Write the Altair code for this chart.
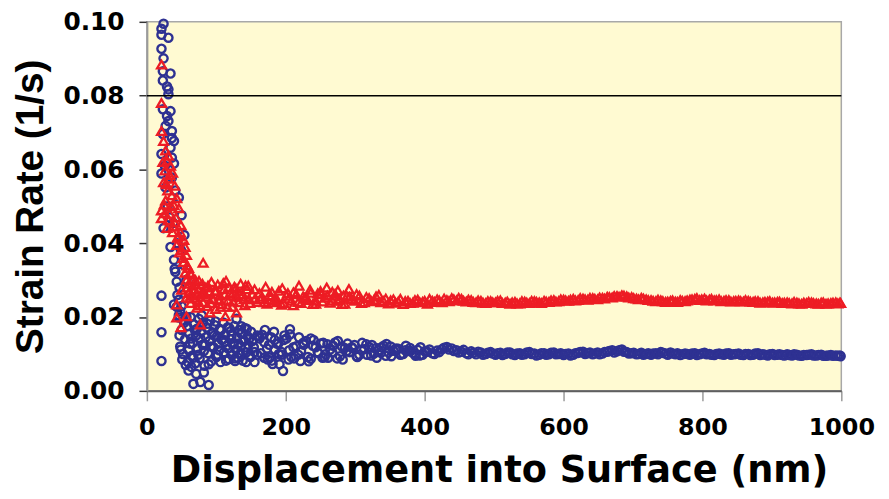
import altair as alt
import pandas as pd

# ---------------- axis ticks ----------------
x_ticks = [0, 200, 400, 600, 800, 1000]
y_ticks = [0.00, 0.02, 0.04, 0.06, 0.08, 0.10]
ref_y = [0.08]
ref_x_start = [0]
ref_x_end = [1000]

# ---------------- blue series (circles) ----------------
blue_early_x = [24, 21, 31, 21, 21, 24, 23, 34, 23, 29,
                31, 31, 23, 34, 29, 31, 27, 36, 23, 36,
                39, 34, 21, 36, 39, 21, 36, 27, 41, 46,
                24, 34, 39, 41, 43, 46, 43, 50, 54, 49,
                53, 57, 39, 46, 26, 30, 33, 38, 44, 40,
                47, 44, 50, 48]
blue_early_y = [.0995, .0981, .0957, .0965, .0927, .0901, .0866, .0860, .0841, .0825,
                .0817, .0804, .0763, .0758, .0745, .0731, .0718, .0704, .0696, .0685,
                .0677, .0659, .0642, .0632, .0616, .0589, .0578, .0551, .0543, .0524,
                .0441, .0390, .0355, .0323, .0296, .0247, .0228, .0476, .0422, .0382,
                .0341, .0301, .0234, .0199, .0610, .0500, .0470, .0455, .0400, .0330,
                .0280, .0260, .0230, .0215]

blue_out_x = [21, 21, 21, 136, 206, 206, 236, 127, 143, 181,
              196, 221, 256, 67, 77, 89, 64, 71, 60, 82]
blue_out_y = [.0258, .0159, .0081, .0175, .0167, .0153, .0142, .0081, .0078, .0073,
              .0054, .0081, .0091, .0019, .0024, .0016, .0065, .0046, .0055, .0050]

blue_dense_x = [46, 48, 50, 51, 53, 55, 56, 58, 60, 61,
                63, 65, 66, 68, 70, 71, 73, 75, 76, 78,
                80, 81, 83, 85, 86, 88, 90, 91, 93, 95,
                96, 98, 100, 101, 103, 105, 106, 108, 110, 111,
                113, 115, 116, 118, 120, 121, 123, 125, 126, 128,
                130, 131, 133, 135, 136, 138, 140, 141, 143, 145,
                146, 148, 150]
blue_dense_y = [.0205, .0120, .0165, .0085, .0190, .0140, .0070, .0175, .0110, .0155,
                .0200, .0095, .0130, .0180, .0075, .0150, .0115, .0195, .0088, .0160,
                .0125, .0185, .0068, .0145, .0172, .0102, .0135, .0190, .0080, .0158,
                .0118, .0178, .0092, .0148, .0128, .0168, .0078, .0138, .0185, .0105,
                .0152, .0122, .0172, .0086, .0140, .0162, .0098, .0130, .0176, .0112,
                .0145, .0090, .0165, .0120, .0155, .0082, .0135, .0170, .0104, .0148,
                .0125, .0095, .0160]

blue_dense2_x = [47, 52, 57, 62, 67, 72, 77, 82, 87, 92,
                 97, 102, 107, 112, 117, 122, 127, 132, 137, 142, 147]
blue_dense2_y = [.0150, .0100, .0200, .0128, .0090, .0168, .0142, .0108, .0182, .0120,
                 .0150, .0098, .0165, .0132, .0115, .0150, .0088, .0128, .0158, .0118, .0140]

blue_dense3_x = [49, 54, 59, 64, 69, 74, 79, 84, 89, 94,
                 99, 104, 109, 114, 119, 124, 129, 134, 139, 144,
                 149, 154, 159, 164, 169, 174, 179, 184, 189, 194]
blue_dense3_y = [.0112, .0185, .0078, .0142, .0165, .0098, .0205, .0125, .0072, .0155,
                 .0188, .0110, .0140, .0082, .0170, .0125, .0195, .0100, .0135, .0168,
                 .0092, .0118, .0150, .0102, .0132, .0085, .0145, .0112, .0128, .0098]

blue_mid_x = [155, 162, 170, 177, 184, 191, 198, 205, 212, 219,
              226, 233, 240, 247, 254, 261, 268, 275, 282, 289,
              296, 303, 310, 317, 324, 331, 338, 345, 352, 359,
              366, 373, 380, 387, 394]
blue_mid_y = [.0078, .0142, .0165, .0090, .0138, .0072, .0150, .0110, .0088, .0145,
              .0125, .0080, .0138, .0102, .0130, .0090, .0122, .0135, .0085, .0128,
              .0116, .0092, .0130, .0098, .0124, .0090, .0118, .0127, .0094, .0115,
              .0099, .0122, .0108, .0095, .0118]

tail_x = [152, 159, 166, 173, 180, 187, 194, 201, 208, 215,
          222, 229, 236, 243, 250, 257, 264, 271, 278, 285,
          292, 299, 306, 313, 320, 327, 334, 341, 348, 355,
          362, 369, 376, 383, 390, 397, 404, 411, 418, 425,
          432, 439, 446, 453, 460, 467, 474, 481, 488, 495,
          502, 509, 516, 523, 530, 537, 544, 551, 558, 565,
          572, 579, 586, 593, 600, 607, 614, 621, 628, 635,
          642, 649, 656, 663, 670, 677, 684, 691, 698, 705,
          712, 719, 726, 733, 740, 747, 754, 761, 768, 775,
          782, 789, 796, 803, 810, 817, 824, 831, 838, 845,
          852, 859, 866, 873, 880, 887, 894, 901, 908, 915,
          922, 929, 936, 943, 950, 957, 964, 971, 978, 985,
          992, 999]

tail2_x = [155, 162, 169, 176, 183, 190, 197, 204, 211, 218,
           225, 232, 239, 246, 253, 260, 267, 274, 281, 288,
           295, 302, 309, 316, 323, 330, 337, 344, 351, 358,
           365, 372, 379, 386, 393, 400, 407, 414, 421, 428,
           435, 442, 449, 456, 463, 470, 477, 484, 491, 498,
           505, 512, 519, 526, 533, 540, 547, 554, 561, 568,
           575, 582, 589, 596, 603, 610, 617, 624, 631, 638,
           645, 652, 659, 666, 673, 680, 687, 694, 701, 708,
           715, 722, 729, 736, 743, 750, 757, 764, 771, 778,
           785, 792, 799, 806, 813, 820, 827, 834, 841, 848,
           855, 862, 869, 876, 883, 890, 897, 904, 911, 918,
           925, 932, 939, 946, 953, 960, 967, 974, 981, 988,
           995, 998]

blue_tail_y = [.0135, .0098, .0152, .0115, .0082, .0128, .0105, .0142, .0092, .0121,
               .0108, .0135, .0087, .0118, .0128, .0099, .0112, .0131, .0094, .0116,
               .0105, .0124, .0098, .0113, .0119, .0101, .0110, .0122, .0104, .0109,
               .0114, .0100, .0108, .0103, .0111, .0098, .0106, .0102, .0109, .0113,
               .0119, .0115, .0110, .0106, .0102, .0107, .0099, .0104, .0100, .0105,
               .0098, .0103, .0100, .0104, .0097, .0102, .0099, .0105, .0101, .0098,
               .0102, .0099, .0104, .0100, .0097, .0101, .0098, .0103, .0106, .0102,
               .0099, .0104, .0101, .0106, .0110, .0107, .0112, .0105, .0102, .0099,
               .0103, .0100, .0098, .0102, .0105, .0101, .0104, .0099, .0097, .0101,
               .0098, .0102, .0099, .0103, .0100, .0097, .0101, .0098, .0102, .0099,
               .0101, .0097, .0100, .0098, .0102, .0099, .0096, .0100, .0098, .0097,
               .0099, .0096, .0098, .0095, .0097, .0099, .0096, .0098, .0095, .0097,
               .0096, .0094]

blue_tail2_y = [.0105, .0148, .0090, .0125, .0160, .0100, .0138, .0085, .0118, .0098,
                .0130, .0092, .0122, .0105, .0090, .0126, .0104, .0088, .0120, .0108,
                .0118, .0094, .0112, .0126, .0096, .0116, .0103, .0095, .0120, .0112,
                .0098, .0110, .0116, .0100, .0096, .0107, .0112, .0100, .0105, .0117,
                .0112, .0108, .0104, .0111, .0099, .0103, .0106, .0098, .0103, .0101,
                .0102, .0097, .0104, .0099, .0101, .0098, .0104, .0100, .0096, .0102,
                .0098, .0103, .0099, .0102, .0100, .0096, .0102, .0105, .0100, .0104,
                .0101, .0099, .0105, .0108, .0104, .0110, .0106, .0101, .0103, .0100,
                .0098, .0102, .0101, .0099, .0103, .0098, .0101, .0102, .0099, .0100,
                .0101, .0097, .0101, .0099, .0098, .0100, .0099, .0101, .0098, .0100,
                .0098, .0100, .0097, .0101, .0097, .0098, .0099, .0097, .0099, .0096,
                .0097, .0099, .0096, .0097, .0098, .0096, .0097, .0095, .0096, .0095,
                .0095, .0096]

# ---------------- red series (triangles) ----------------
red_early_x = [21, 21, 21, 24, 27, 31, 29, 34, 26, 37,
               31, 24, 40, 30, 36, 43, 27, 39, 46, 21,
               26, 21, 31, 40, 49, 29, 37, 46, 53, 43,
               50, 57, 53, 60, 81, 64, 57, 70, 50, 74,
               57, 81, 43, 49, 43, 77, 57, 91, 113, 129,
               23, 33, 28, 35, 33, 42, 25, 38, 48, 44,
               55, 47, 52, 58, 62, 55, 66, 60, 68]
red_early_y = [.0884, .0780, .0704, .0677, .0651, .0637, .0624, .0610, .0597, .0591,
               .0575, .0565, .0556, .0543, .0530, .0522, .0516, .0503, .0495, .0489,
               .0481, .0468, .0462, .0457, .0449, .0441, .0430, .0419, .0409, .0395,
               .0382, .0368, .0349, .0333, .0347, .0315, .0301, .0288, .0274, .0274,
               .0253, .0261, .0234, .0172, .0199, .0180, .0202, .0212, .0202, .0212,
               .0620, .0585, .0560, .0500, .0480, .0470, .0505, .0445, .0430, .0415,
               .0390, .0375, .0360, .0340, .0320, .0320, .0300, .0290, .0275]

red_dense_x = [60, 63, 66, 69, 72, 75, 78, 81, 84, 87,
               90, 93, 96, 99, 102, 105, 108, 111, 114, 117,
               120, 123, 126, 129, 132, 135, 138, 141, 144, 147]
red_dense_y = [.0265, .0238, .0285, .0252, .0225, .0298, .0262, .0240, .0280, .0230,
               .0270, .0295, .0248, .0222, .0288, .0258, .0235, .0275, .0298, .0245,
               .0265, .0228, .0282, .0255, .0240, .0290, .0262, .0232, .0275, .0250]

red_dense2_x = [62, 68, 74, 80, 86, 92, 98, 104, 110, 116, 122, 128, 134, 140, 146]
red_dense2_y = [.0250, .0275, .0242, .0290, .0255, .0238, .0270, .0245, .0292, .0228,
                .0258, .0278, .0262, .0248, .0285]

red_dense3_x = [58, 64, 70, 76, 82, 88, 94, 100, 106, 112, 118, 124, 130, 136, 142, 148]
red_dense3_y = [.0280, .0260, .0300, .0232, .0268, .0285, .0250, .0272, .0228, .0262,
                .0280, .0242, .0270, .0255, .0285, .0238]

red_mid_x = [155, 163, 171, 179, 187, 195, 203, 211, 219, 227,
             235, 243, 251, 259, 267, 275, 283, 291]
red_mid_y = [.0275, .0248, .0282, .0256, .0240, .0278, .0265, .0232, .0285, .0252,
             .0274, .0236, .0262, .0280, .0245, .0272, .0258, .0276]

red_tail_y = [.0262, .0241, .0255, .0236, .0268, .0249, .0233, .0258, .0244, .0262,
              .0238, .0251, .0266, .0245, .0270, .0252, .0239, .0263, .0248, .0236,
              .0255, .0244, .0258, .0240, .0251, .0246, .0260, .0243, .0237, .0248,
              .0242, .0235, .0244, .0239, .0247, .0241, .0236, .0244, .0248, .0240,
              .0246, .0251, .0245, .0249, .0242, .0246, .0240, .0244, .0238, .0243,
              .0240, .0245, .0239, .0236, .0241, .0237, .0242, .0238, .0243, .0240,
              .0244, .0241, .0246, .0243, .0247, .0244, .0249, .0246, .0250, .0247,
              .0251, .0248, .0252, .0255, .0253, .0257, .0259, .0256, .0254, .0250,
              .0252, .0248, .0246, .0243, .0245, .0241, .0244, .0242, .0246, .0243,
              .0247, .0249, .0246, .0250, .0247, .0245, .0248, .0244, .0246, .0243,
              .0245, .0242, .0244, .0241, .0243, .0240, .0242, .0239, .0241, .0238,
              .0240, .0237, .0239, .0236, .0238, .0240, .0237, .0239, .0236, .0238,
              .0240, .0238]

red_tail2_y = [.0248, .0265, .0240, .0259, .0245, .0271, .0238, .0250, .0267, .0241,
               .0256, .0246, .0235, .0264, .0242, .0258, .0268, .0244, .0235, .0257,
               .0249, .0262, .0238, .0254, .0243, .0256, .0240, .0250, .0245, .0239,
               .0249, .0243, .0238, .0246, .0240, .0244, .0249, .0241, .0245, .0250,
               .0243, .0248, .0252, .0244, .0247, .0241, .0245, .0239, .0243, .0240,
               .0244, .0238, .0242, .0240, .0237, .0243, .0239, .0244, .0241, .0238,
               .0242, .0245, .0242, .0248, .0245, .0247, .0245, .0251, .0248, .0252,
               .0249, .0253, .0250, .0254, .0257, .0255, .0258, .0253, .0251, .0248,
               .0250, .0246, .0244, .0247, .0243, .0242, .0245, .0241, .0244, .0245,
               .0248, .0251, .0248, .0245, .0249, .0246, .0243, .0246, .0242, .0244,
               .0243, .0246, .0242, .0243, .0239, .0241, .0243, .0240, .0242, .0239,
               .0238, .0241, .0237, .0239, .0241, .0238, .0236, .0240, .0237, .0239,
               .0237, .0239]

# ---------------- build tables ----------------
blue_x = (blue_dense_x + blue_dense2_x + blue_dense3_x + blue_mid_x + tail_x + tail2_x
          + blue_out_x + blue_early_x)
blue_y = (blue_dense_y + blue_dense2_y + blue_dense3_y + blue_mid_y + blue_tail_y + blue_tail2_y
          + blue_out_y + blue_early_y)
red_x = red_dense_x + red_dense2_x + red_dense3_x + red_mid_x + tail_x + tail2_x + red_early_x
red_y = red_dense_y + red_dense2_y + red_dense3_y + red_mid_y + red_tail_y + red_tail2_y + red_early_y

n_b = min(len(blue_x), len(blue_y))
n_r = min(len(red_x), len(red_y))
blue_df = pd.DataFrame({"x": blue_x[:n_b], "y": blue_y[:n_b]})
red_df = pd.DataFrame({"x": red_x[:n_r], "y": red_y[:n_r]})
ref_df = pd.DataFrame({"x": ref_x_start, "x2": ref_x_end, "y": ref_y})

BLUE = "#2E3192"
RED = "#ED1C24"

x_axis = alt.Axis(
    values=x_ticks, format="d", title="Displacement into Surface (nm)", grid=False,
    labelFont="DejaVu Sans", labelFontWeight="bold", labelFontSize=24, labelColor="black",
    labelPadding=15, labelFlush=False, labelOverlap=False,
    tickSize=10, tickColor="#9A9A9A", tickWidth=1.5,
    domainColor="#5F5F5F", domainWidth=2,
    titleFont="DejaVu Sans", titleFontWeight="bold", titleFontSize=37, titleColor="black",
    titleX=355, titleY=91, titleBaseline="alphabetic", titleAlign="center",
)
y_axis = alt.Axis(
    values=y_ticks, format=".2f", title="Strain Rate (1/s)", grid=False,
    labelFont="DejaVu Sans", labelFontWeight="bold", labelFontSize=25, labelColor="black",
    labelPadding=15, labelFlush=False, labelOverlap=False,
    tickSize=8, tickColor="#333333", tickWidth=1.5,
    domainColor="#9A9A9A", domainWidth=2,
    titleFont="Liberation Sans", titleFontWeight="bold", titleFontSize=39, titleColor="black",
    titleAngle=270, titleX=-105, titleY=186, titleBaseline="alphabetic", titleAlign="center",
)

x_enc = alt.X("x:Q", scale=alt.Scale(domain=[0, 1000], nice=False, zero=False), axis=x_axis)
y_enc = alt.Y("y:Q", scale=alt.Scale(domain=[0, 0.1], nice=False), axis=y_axis)

blue = alt.Chart(blue_df).mark_point(
    shape="circle", filled=False, color=BLUE, size=68, strokeWidth=2.4, opacity=1
).encode(x=x_enc, y=y_enc)

red = alt.Chart(red_df).mark_point(
    shape="triangle-up", filled=False, color=RED, size=80, strokeWidth=2.3, opacity=1
).encode(x=x_enc, y=y_enc)

rule = alt.Chart(ref_df).mark_rule(color="black", strokeWidth=1.5).encode(
    x=x_enc, x2="x2:Q", y=y_enc
)

chart = alt.layer(blue, red, rule).properties(
    width=700, height=372,
    autosize=alt.AutoSizeParams(type="none"),
    padding={"left": 140, "top": 12, "right": 40, "bottom": 99},
).configure_view(
    fill="#FFFAD2", stroke="#A8A8A8", strokeWidth=1.5
)

chart.save("out.html", embed_options={"renderer": "svg", "actions": False})
